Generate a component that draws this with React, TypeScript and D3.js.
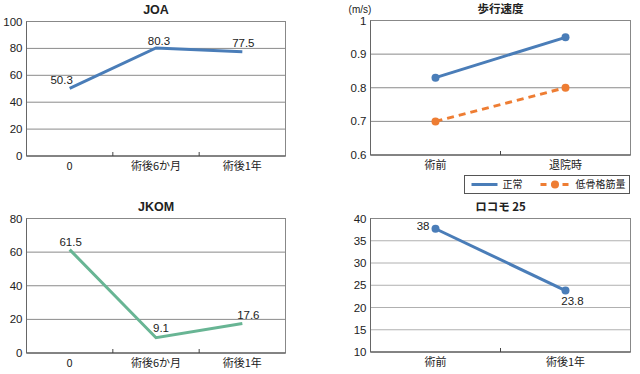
import React from "react";
import * as d3 from "d3";

// JOA
const joaCategories = ["0", "術後6か月", "術後1年"];
const joaValues = [50.3, 80.3, 77.5];
const joaTicks = [0, 20, 40, 60, 80, 100];

// JKOM
const jkomCategories = ["0", "術後6か月", "術後1年"];
const jkomValues = [61.5, 9.1, 17.6];
const jkomTicks = [0, 20, 40, 60, 80];

// 歩行速度
const speedCategories = ["術前", "退院時"];
const speedNormal = [0.83, 0.95];
const speedLowMuscle = [0.7, 0.8];
const speedTicks = [0.6, 0.7, 0.8, 0.9, 1];
const speedSeriesNames = ["正常", "低骨格筋量"];

// ロコモ 25
const locoCategories = ["術前", "術後1年"];
const locoValues = [37.7, 23.8];
const locoLabels = ["38", "23.8"];
const locoTicks = [10, 15, 20, 25, 30, 35, 40];

const FONT = "'Liberation Sans', Arial, 'Noto Sans CJK JP', sans-serif";
const JP_FONT = "'Noto Sans CJK JP', 'Liberation Sans', sans-serif";
const BLUE = "#4a7db8";
const GREEN = "#68b594";
const ORANGE = "#ee7d33";

type Series = {
  values: number[];
  color: string;
  dash?: string;
  markers?: boolean;
  labels?: string[];
  labelPos?: [number, number, string][]; // dx, dy, anchor
};

type PanelProps = {
  title: string;
  left: number;
  right: number;
  top: number;
  bottom: number;
  categories: string[];
  ticks: number[];
  series: Series[];
  gridColor?: string;
};

function Panel({ title, left, right, top, bottom, categories, ticks, series, gridColor = "#8a8a8a" }: PanelProps) {
  const x = d3.scaleBand<string>().domain(categories).range([left, right]);
  const y = d3
    .scaleLinear()
    .domain([ticks[0], ticks[ticks.length - 1]])
    .range([bottom, top]);
  const line = d3
    .line<number>()
    .x((_, i) => x(categories[i])! + x.bandwidth() / 2)
    .y((d) => y(d));
  const latin = /^[A-Z]/.test(title);

  return (
    <g>
      <text
        x={(left + right) / 2}
        y={top - 7.5}
        textAnchor="middle"
        fontSize={latin ? 12.5 : 11.5}
        fontWeight="bold"
        fontFamily={latin ? FONT : JP_FONT}
        fill="#222"
      >
        {title}
      </text>
      {ticks.slice(1, -1).map((t) => (
        <line key={t} x1={left} x2={right} y1={y(t)} y2={y(t)} stroke={gridColor} strokeWidth={1} />
      ))}
      <rect x={left} y={top} width={right - left} height={bottom - top} fill="none" stroke="#888" strokeWidth={1} />
      <line x1={left} x2={right} y1={bottom} y2={bottom} stroke="#444" strokeWidth={1} />
      <line x1={left} x2={left} y1={top} y2={bottom} stroke="#666" strokeWidth={1} />
      {categories.slice(1).map((c) => (
        <line key={c} x1={x(c)} x2={x(c)} y1={bottom - 4} y2={bottom} stroke="#444" />
      ))}
      {ticks.map((t) => (
        <text key={t} x={left - 4} y={y(t) + 4} textAnchor="end" fontSize={11.5} fontFamily={FONT} fill="#222">
          {String(t)}
        </text>
      ))}
      {categories.map((c) => (
        <text
          key={c}
          x={x(c)! + x.bandwidth() / 2}
          y={bottom + 14}
          textAnchor="middle"
          fontSize={11}
          fontFamily={JP_FONT}
          fill="#222"
        >
          {c}
        </text>
      ))}
      {series.map((s, si) => (
        <g key={si}>
          <path d={line(s.values) ?? ""} fill="none" stroke={s.color} strokeWidth={3} strokeDasharray={s.dash} />
          {s.markers &&
            s.values.map((v, i) => (
              <circle key={i} cx={x(categories[i])! + x.bandwidth() / 2} cy={y(v)} r={4} fill={s.color} />
            ))}
          {s.labels &&
            s.values.map((v, i) => {
              const [dx, dy, anchor] = s.labelPos ? s.labelPos[i] : [0, -6, "middle"];
              return (
                <text
                  key={"l" + i}
                  x={x(categories[i])! + x.bandwidth() / 2 + dx}
                  y={y(v) + dy}
                  textAnchor={anchor}
                  fontSize={11.5}
                  fontFamily={FONT}
                  fill="#222"
                >
                  {s.labels![i]}
                </text>
              );
            })}
        </g>
      ))}
    </g>
  );
}

function Legend({ x0, y0, w, h }: { x0: number; y0: number; w: number; h: number }) {
  const cy = y0 + h / 2;
  return (
    <g>
      <rect x={x0} y={y0} width={w} height={h} fill="#fff" stroke="#555" strokeWidth={1} />
      <line x1={x0 + 7} x2={x0 + 33} y1={cy} y2={cy} stroke={BLUE} strokeWidth={3} />
      <text x={x0 + 38} y={cy + 3.5} fontSize={10} fontFamily={JP_FONT} fill="#222">
        {speedSeriesNames[0]}
      </text>
      <line x1={x0 + 76} x2={x0 + 105} y1={cy} y2={cy} stroke={ORANGE} strokeWidth={3} strokeDasharray="6,5" />
      <circle cx={x0 + 90.5} cy={cy} r={4} fill={ORANGE} />
      <text x={x0 + 111} y={cy + 3.5} fontSize={10} fontFamily={JP_FONT} fill="#222">
        {speedSeriesNames[1]}
      </text>
    </g>
  );
}

export default function App() {
  return (
    <svg width={640} height={374} style={{ position: "absolute", left: 0, top: 0, background: "#fff" }}>
      <rect width={640} height={374} fill="#fff" />
      <Panel
        title="JOA"
        left={26.5}
        right={285.5}
        top={21.5}
        bottom={156}
        categories={joaCategories}
        ticks={joaTicks}
        series={[
          {
            values: joaValues,
            color: BLUE,
            labels: joaValues.map((v) => v.toFixed(1)),
            labelPos: [
              [-8, -4, "middle"],
              [3, -3, "middle"],
              [1, -5, "middle"],
            ],
          },
        ]}
      />
      <Panel
        title="JKOM"
        left={26.5}
        right={285.5}
        top={218.5}
        bottom={353}
        categories={jkomCategories}
        ticks={jkomTicks}
        series={[
          {
            values: jkomValues,
            color: GREEN,
            labels: jkomValues.map((v) => v.toFixed(1)),
            labelPos: [
              [1, -4, "middle"],
              [5, -6, "middle"],
              [6, -4, "middle"],
            ],
          },
        ]}
      />
      <text x={360} y={13} textAnchor="middle" fontSize={10} fontFamily={FONT} fill="#222">
        (m/s)
      </text>
      <Panel
        title="歩行速度"
        left={370.5}
        right={630.5}
        top={20.5}
        bottom={155}
        categories={speedCategories}
        ticks={speedTicks}
        series={[
          { values: speedNormal, color: BLUE, markers: true },
          { values: speedLowMuscle, color: ORANGE, markers: true, dash: "7,5" },
        ]}
      />
      <Legend x0={464.5} y0={175.5} w={165} h={18} />
      <Panel
        title="ロコモ 25"
        left={370.5}
        right={630.5}
        top={218.5}
        bottom={352}
        categories={locoCategories}
        ticks={locoTicks}
        gridColor="#b0b0b0"
        series={[
          {
            values: locoValues,
            color: BLUE,
            markers: true,
            labels: locoLabels,
            labelPos: [
              [-6, 1, "end"],
              [7, 14, "middle"],
            ],
          },
        ]}
      />
    </svg>
  );
}
